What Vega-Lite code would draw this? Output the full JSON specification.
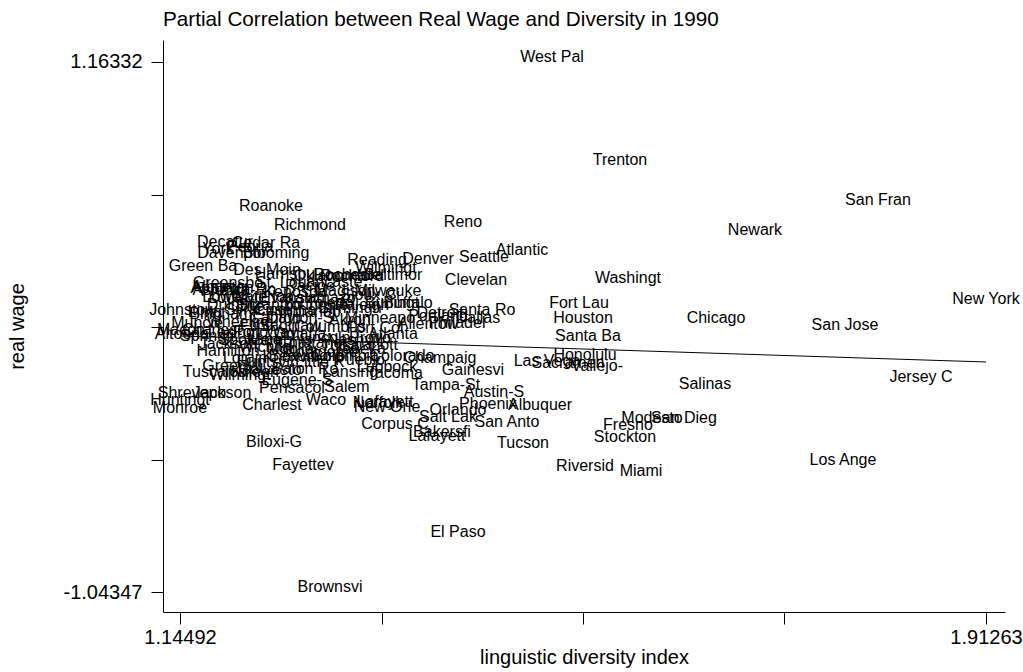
{
  "$schema": "https://vega.github.io/schema/vega-lite/v6.json",
  "width": 842,
  "height": 572,
  "autosize": "none",
  "padding": {"left": 163, "top": 40, "right": 18, "bottom": 60},
  "background": "white",
  "config": {"view": {"stroke": null}, "font": "Liberation Sans"},
  "title": {"text": "Partial Correlation between Real Wage and Diversity in 1990", "anchor": "start", "frame": "group", "fontSize": 20.7, "fontWeight": "normal", "font": "Liberation Sans", "color": "black", "offset": 9},
  "encoding": {
    "x": {"field": "div", "type": "quantitative",
      "scale": {"domain": [1.12873, 1.93073], "nice": false, "zero": false},
      "axis": {"values": [1.14492, 1.33685, 1.52878, 1.7207, 1.91263],
        "labelExpr": "datum.value < 1.2 ? '1.14492' : (datum.value > 1.9 ? '1.91263' : '')",
        "title": "linguistic diversity index", "titleFontSize": 20, "titleFont": "Liberation Sans", "titleFontWeight": "normal", "titleColor": "black", "titlePadding": 0,
        "labelFontSize": 20, "labelFont": "Liberation Sans", "labelColor": "black", "labelPadding": 3, "labelOverlap": false, "labelFlush": false,
        "tickSize": 12, "tickColor": "black", "domainColor": "black", "grid": false}},
    "y": {"field": "wage", "type": "quantitative",
      "scale": {"domain": [-1.12674, 1.25492], "nice": false, "zero": false},
      "axis": {"values": [1.16332, 0.61162, 0.05993, -0.49177, -1.04347],
        "labelExpr": "datum.value > 1 ? '1.16332' : (datum.value < -1 ? '-1.04347' : '')",
        "title": "real wage", "titleFontSize": 20, "titleFont": "Liberation Sans", "titleFontWeight": "normal", "titleColor": "black", "titlePadding": 36,
        "labelFontSize": 20, "labelFont": "Liberation Sans", "labelColor": "black", "labelPadding": 9, "labelOverlap": false, "labelFlush": false,
        "tickSize": 12, "tickColor": "black", "domainColor": "black", "grid": false}}
  },
  "layer": [
    {
      "data": {"values": [
        {"city": "West Pal", "div": 1.49924, "wage": 1.16332},
        {"city": "Trenton", "div": 1.56401, "wage": 0.73446},
        {"city": "San Fran", "div": 1.80974, "wage": 0.56791},
        {"city": "Newark", "div": 1.69259, "wage": 0.44300},
        {"city": "Roanoke", "div": 1.23159, "wage": 0.54293},
        {"city": "Richmond", "div": 1.26874, "wage": 0.46382},
        {"city": "Reno", "div": 1.41447, "wage": 0.47631},
        {"city": "Atlantic", "div": 1.47066, "wage": 0.35973},
        {"city": "Seattle", "div": 1.43447, "wage": 0.33058},
        {"city": "Denver", "div": 1.38113, "wage": 0.32225},
        {"city": "Reading", "div": 1.33256, "wage": 0.31809},
        {"city": "Wilmingt", "div": 1.34113, "wage": 0.28478},
        {"city": "Baltimor", "div": 1.34780, "wage": 0.25563},
        {"city": "Rockford", "div": 1.30874, "wage": 0.25147},
        {"city": "Rocheste", "div": 1.30398, "wage": 0.25563},
        {"city": "Oklahoma", "div": 1.28779, "wage": 0.25147},
        {"city": "Harrisbu", "div": 1.24493, "wage": 0.25980},
        {"city": "Des Moin", "div": 1.22778, "wage": 0.27645},
        {"city": "Green Ba", "div": 1.16683, "wage": 0.29311},
        {"city": "Decatur", "div": 1.18778, "wage": 0.39304},
        {"city": "Cedar Ra", "div": 1.22683, "wage": 0.38887},
        {"city": "York", "div": 1.18111, "wage": 0.36389},
        {"city": "Peoria", "div": 1.21159, "wage": 0.37222},
        {"city": "Davenpor", "div": 1.19445, "wage": 0.34723},
        {"city": "Blooming", "div": 1.23636, "wage": 0.34723},
        {"city": "Washingt", "div": 1.57163, "wage": 0.24314},
        {"city": "Clevelan", "div": 1.42685, "wage": 0.23481},
        {"city": "Lancaste", "div": 1.28779, "wage": 0.22649},
        {"city": "St. Loui", "div": 1.24302, "wage": 0.22232},
        {"city": "Greensbo", "div": 1.19064, "wage": 0.22232},
        {"city": "Albany", "div": 1.17921, "wage": 0.20567},
        {"city": "Appleton", "div": 1.18492, "wage": 0.20151},
        {"city": "Ashevill", "div": 1.18302, "wage": 0.19318},
        {"city": "Madison", "div": 1.30208, "wage": 0.18901},
        {"city": "Milwauke", "div": 1.34303, "wage": 0.18901},
        {"city": "Lowell", "div": 1.18778, "wage": 0.16403},
        {"city": "Louisvil", "div": 1.19731, "wage": 0.15987},
        {"city": "Waterloo", "div": 1.22302, "wage": 0.16403},
        {"city": "Evansvil", "div": 1.24969, "wage": 0.15987},
        {"city": "Kalamazo", "div": 1.27827, "wage": 0.15987},
        {"city": "Johnstow", "div": 1.14778, "wage": 0.10990},
        {"city": "Lima", "div": 1.16873, "wage": 0.10158},
        {"city": "Binghamt", "div": 1.18588, "wage": 0.09325},
        {"city": "Muncie", "div": 1.16111, "wage": 0.05578},
        {"city": "Wheeling", "div": 1.20207, "wage": 0.05994},
        {"city": "Canton", "div": 1.23540, "wage": 0.07659},
        {"city": "Altoona", "div": 1.14682, "wage": 0.00998},
        {"city": "Macon", "div": 1.14587, "wage": 0.02663},
        {"city": "Charlest", "div": 1.17540, "wage": 0.02663},
        {"city": "Springfi", "div": 1.17064, "wage": 0.00165},
        {"city": "Lexingto", "div": 1.20016, "wage": 0.01830},
        {"city": "Jackson", "div": 1.19064, "wage": -0.03166},
        {"city": "Hamilton", "div": 1.19064, "wage": -0.06081},
        {"city": "Lorain", "div": 1.20683, "wage": -0.08995},
        {"city": "Knoxvill", "div": 1.24969, "wage": -0.08579},
        {"city": "Beaumont", "div": 1.26398, "wage": -0.08163},
        {"city": "Colorado", "div": 1.35637, "wage": -0.08163},
        {"city": "Champaig", "div": 1.39256, "wage": -0.08995},
        {"city": "Lubbock", "div": 1.34208, "wage": -0.12743},
        {"city": "Lansing", "div": 1.30684, "wage": -0.14825},
        {"city": "Tacoma", "div": 1.34970, "wage": -0.15241},
        {"city": "Baton Ro", "div": 1.26398, "wage": -0.13575},
        {"city": "Eugene-S", "div": 1.25636, "wage": -0.18156},
        {"city": "Salem", "div": 1.30398, "wage": -0.21070},
        {"city": "Pensacol", "div": 1.25160, "wage": -0.21486},
        {"city": "Greenvil", "div": 1.19445, "wage": -0.12326},
        {"city": "Tuscaloo", "div": 1.17826, "wage": -0.14825},
        {"city": "Wilmingt", "div": 1.20207, "wage": -0.16074},
        {"city": "Shrevepo", "div": 1.15635, "wage": -0.23568},
        {"city": "Jackson", "div": 1.18492, "wage": -0.23568},
        {"city": "Huntingt", "div": 1.14492, "wage": -0.26483},
        {"city": "Monroe", "div": 1.14492, "wage": -0.29814},
        {"city": "Charlest", "div": 1.23255, "wage": -0.28565},
        {"city": "Waco", "div": 1.28398, "wage": -0.26483},
        {"city": "Lafayett", "div": 1.34018, "wage": -0.27316},
        {"city": "New Orle", "div": 1.34208, "wage": -0.29398},
        {"city": "Norfolk", "div": 1.33351, "wage": -0.27732},
        {"city": "Orlando", "div": 1.40971, "wage": -0.30647},
        {"city": "Salt Lak", "div": 1.40018, "wage": -0.33561},
        {"city": "San Anto", "div": 1.45638, "wage": -0.35643},
        {"city": "Corpus C", "div": 1.34970, "wage": -0.36476},
        {"city": "Bakersfi", "div": 1.39447, "wage": -0.39807},
        {"city": "Lafayett", "div": 1.38970, "wage": -0.41472},
        {"city": "Tucson", "div": 1.47162, "wage": -0.44387},
        {"city": "Phoenix", "div": 1.43828, "wage": -0.28148},
        {"city": "Austin-S", "div": 1.44400, "wage": -0.23152},
        {"city": "Albuquer", "div": 1.48781, "wage": -0.28565},
        {"city": "Tampa-St", "div": 1.39828, "wage": -0.20237},
        {"city": "Gainesvi", "div": 1.42399, "wage": -0.13992},
        {"city": "Riversid", "div": 1.53067, "wage": -0.53963},
        {"city": "Miami", "div": 1.58401, "wage": -0.56045},
        {"city": "Los Ange", "div": 1.77641, "wage": -0.51465},
        {"city": "Biloxi-G", "div": 1.23445, "wage": -0.43970},
        {"city": "Fayettev", "div": 1.26207, "wage": -0.53547},
        {"city": "El Paso", "div": 1.40971, "wage": -0.81444},
        {"city": "Brownsvi", "div": 1.28779, "wage": -1.04347},
        {"city": "Modesto", "div": 1.59449, "wage": -0.33978},
        {"city": "San Dieg", "div": 1.62496, "wage": -0.33978},
        {"city": "Fresno", "div": 1.57163, "wage": -0.36892},
        {"city": "Stockton", "div": 1.56877, "wage": -0.41889},
        {"city": "Salinas", "div": 1.64497, "wage": -0.19821},
        {"city": "Jersey C", "div": 1.85070, "wage": -0.16906},
        {"city": "Honolulu", "div": 1.53067, "wage": -0.07746},
        {"city": "Las Vega", "div": 1.49448, "wage": -0.10244},
        {"city": "Sacramen", "div": 1.51448, "wage": -0.11077},
        {"city": "Vallejo-", "div": 1.54210, "wage": -0.12326},
        {"city": "Santa Ba", "div": 1.53353, "wage": 0.00165},
        {"city": "San Jose", "div": 1.77831, "wage": 0.04745},
        {"city": "Chicago", "div": 1.65544, "wage": 0.07659},
        {"city": "Houston", "div": 1.52877, "wage": 0.07659},
        {"city": "Fort Lau", "div": 1.52496, "wage": 0.13905},
        {"city": "New York", "div": 1.91263, "wage": 0.15570},
        {"city": "Santa Ro", "div": 1.43257, "wage": 0.10990},
        {"city": "Dallas", "div": 1.42876, "wage": 0.07659},
        {"city": "Portland", "div": 1.39066, "wage": 0.08492},
        {"city": "Detroit", "div": 1.39256, "wage": 0.09741},
        {"city": "Allentow", "div": 1.38113, "wage": 0.05161},
        {"city": "Philadel", "div": 1.40875, "wage": 0.05578},
        {"city": "Atlanta", "div": 1.34780, "wage": 0.00998},
        {"city": "Akron", "div": 1.30684, "wage": 0.06827},
        {"city": "Columbus", "div": 1.28779, "wage": 0.03912},
        {"city": "Raleigh", "div": 1.31827, "wage": 0.13072},
        {"city": "Burlingt", "div": 1.34684, "wage": 0.13905},
        {"city": "Buffalo", "div": 1.36208, "wage": 0.13905},
        {"city": "Toledo", "div": 1.28779, "wage": 0.13905},
        {"city": "Birmingh", "div": 1.30684, "wage": 0.11823},
        {"city": "Indianap", "div": 1.26874, "wage": 0.10158},
        {"city": "Cincinna", "div": 1.24493, "wage": 0.10990},
        {"city": "Dayton-S", "div": 1.25922, "wage": 0.07659},
        {"city": "Syracuse", "div": 1.21921, "wage": 0.10990},
        {"city": "Scranton", "div": 1.23064, "wage": 0.13072},
        {"city": "Erie", "div": 1.21159, "wage": 0.12656},
        {"city": "Youngsto", "div": 1.27350, "wage": 0.13072},
        {"city": "Flint", "div": 1.21636, "wage": 0.04328},
        {"city": "Saginaw", "div": 1.24969, "wage": 0.04328},
        {"city": "Fort Way", "div": 1.22588, "wage": 0.01830},
        {"city": "Omaha", "div": 1.25922, "wage": 0.00998},
        {"city": "Lincoln", "div": 1.28303, "wage": -0.00667},
        {"city": "Nashvill", "div": 1.31160, "wage": -0.01501},
        {"city": "Memphis", "div": 1.24017, "wage": -0.01501},
        {"city": "Chattano", "div": 1.26874, "wage": -0.02750},
        {"city": "Tulsa", "div": 1.29732, "wage": -0.03999},
        {"city": "Wichita", "div": 1.22588, "wage": -0.04415},
        {"city": "Topeka", "div": 1.31636, "wage": -0.05248},
        {"city": "Mobile", "div": 1.24969, "wage": -0.05248},
        {"city": "Montgome", "div": 1.27827, "wage": -0.06497},
        {"city": "Columbia", "div": 1.30208, "wage": -0.08163},
        {"city": "Charlott", "div": 1.32589, "wage": -0.03583},
        {"city": "Huntsvil", "div": 1.22588, "wage": -0.10661},
        {"city": "Galvesto", "div": 1.23064, "wage": -0.13992},
        {"city": "Little R", "div": 1.27827, "wage": -0.10661},
        {"city": "Spokane", "div": 1.21159, "wage": -0.01501},
        {"city": "Provo", "div": 1.32589, "wage": -0.00667},
        {"city": "Duluth", "div": 1.19254, "wage": 0.13072},
        {"city": "Minneapo", "div": 1.33541, "wage": 0.07659},
        {"city": "Fort Col", "div": 1.33065, "wage": 0.03496},
        {"city": "Pueblo", "div": 1.31636, "wage": -0.09828},
        {"city": "Killeen", "div": 1.21636, "wage": -0.14825},
        {"city": "Kenosha", "div": 1.25445, "wage": 0.18485},
        {"city": "Racine", "div": 1.26874, "wage": 0.20983},
        {"city": "Utica-Ro", "div": 1.20683, "wage": 0.19318},
        {"city": "Sioux Ci", "div": 1.32589, "wage": 0.17236}
      ]},
      "mark": {"type": "text", "align": "center", "baseline": "middle", "dy": -5, "fontSize": 16, "font": "Liberation Sans", "color": "black"},
      "encoding": {"text": {"field": "city", "type": "nominal"}}
    },
    {
      "data": {"values": [
        {"div": 1.14492, "wage": 0.02246},
        {"div": 1.91263, "wage": -0.0858}
      ]},
      "mark": {"type": "line", "color": "black", "strokeWidth": 1}
    }
  ]
}
